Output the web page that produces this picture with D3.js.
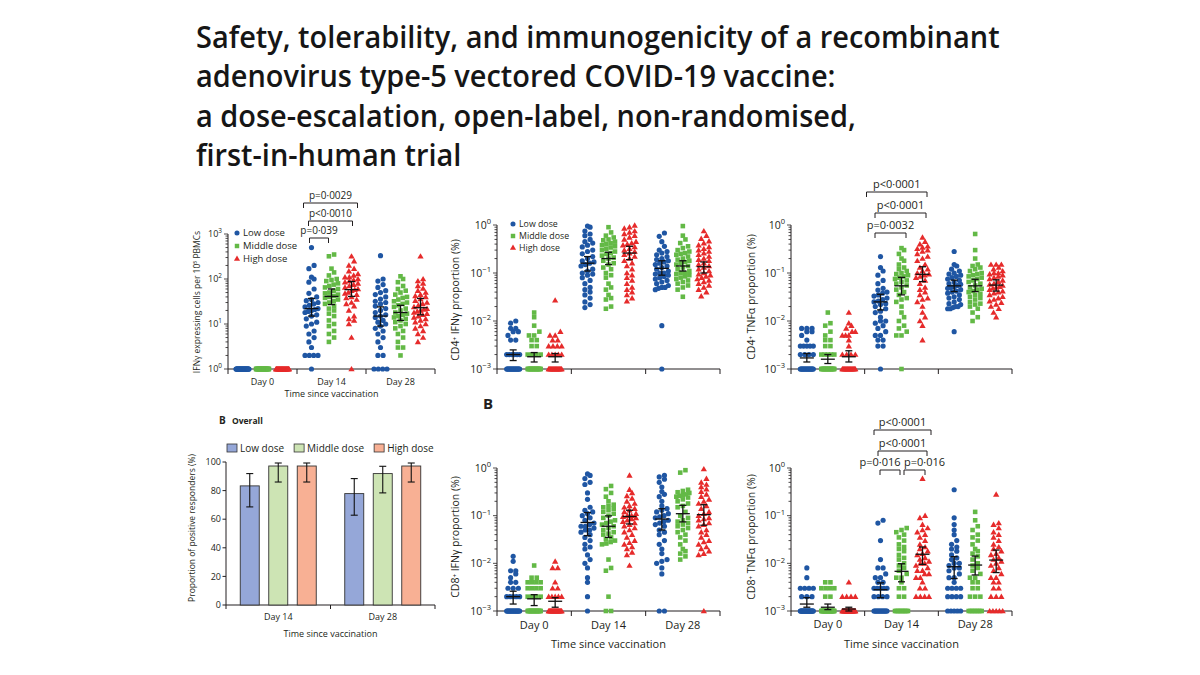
<!DOCTYPE html>
<html><head><meta charset="utf-8">
<script src="https://cdn.jsdelivr.net/npm/d3@7"></script>
<style>body{margin:0;background:#fff}svg{display:block}</style>
</head><body>
<script>
// ---------------- DATA ----------------
const titleLines = ["Safety, tolerability, and immunogenicity of a recombinant","adenovirus type-5 vectored COVID-19 vaccine:","a dose-escalation, open-label, non-randomised,","first-in-human trial"];
const doseLabels = ["Low dose","Middle dose","High dose"];
const dayLabels = ["Day 0","Day 14","Day 28"];
const barDays = ["Day 14","Day 28"];
const xTitle = "Time since vaccination";

// IFN-γ ELISpot (cells per 10^5 PBMCs)
const spotD0Low  = [1,1,1,1,1,1,1,1,1,1,1,1,1,1,1,1,1,1,1,1,1,1,1,1,1,1,1,1,1,1,1,1,1,1,1,1];
const spotD0Mid  = [1,1,1,1,1,1,1,1,1,1,1,1,1,1,1,1,1,1,1,1,1,1,1,1,1,1,1,1,1,1,1,1,1,1,1,1];
const spotD0High = [1,1,1,1,1,1,1,1,1,1,1,1,1,1,1,1,1,1,1,1,1,1,1,1,1,1,1,1,1,1,1,1,1,1,1,1];
const spotD14Low  = [500,200,170,110,100,85,60,48,40,35,33,30,28,26,24,22,21,20,19,18,16,15,13,11,10,9,7,6,5,4,3,2,2,2,2,1];
const spotD14Mid  = [350,320,170,140,120,100,95,90,80,75,70,65,60,55,50,48,45,42,40,38,35,32,30,28,25,22,20,17,15,12,10,9,7,6,5,4];
const spotD14High = [320,250,200,170,150,130,120,110,110,100,95,90,85,80,75,70,65,60,58,55,50,48,45,40,38,35,30,28,25,20,15,13,12,10,5,1];
const spotD28Low  = [330,100,90,75,65,55,50,45,40,36,32,30,28,25,22,20,18,16,15,14,12,11,10,9,8,7,6,5,4,3,2,2,1,1,1,1];
const spotD28Mid  = [115,100,85,70,60,55,50,45,40,38,35,32,30,28,26,24,22,20,18,17,16,15,14,13,12,11,10,9,8,7,6,5,4,3,3,2];
const spotD28High = [320,100,90,80,70,62,55,50,45,42,40,36,33,30,28,26,24,22,21,20,19,18,17,16,15,14,13,12,11,10,9,8,7,6,5,4];
// geometric mean, 95% CI low, 95% CI high  [day][dose]
const spotStats = [null, [[22,15,37],[41,27,60],[58,41,88]], [[15,9,24],[18,12,26],[23,16,37]]];
const spotP = ["p=0·0029","p<0·0010","p=0·039"];
const spotPairs = [[0,2],[0,2],[0,1]];

// CD4+ IFN-γ (%)
const cd4IfnD0Low  = [0.010,0.009,0.007,0.007,0.006,0.006,0.005,0.004,0.004,0.002,0.002,0.002,0.002,0.002,0.002,0.001,0.001,0.001,0.001,0.001,0.001,0.001,0.001,0.001,0.001,0.001,0.001,0.001,0.001,0.001,0.001,0.001,0.001,0.001,0.001,0.001];
const cd4IfnD0Mid  = [0.015,0.012,0.008,0.006,0.005,0.005,0.004,0.004,0.003,0.003,0.002,0.002,0.002,0.002,0.001,0.001,0.001,0.001,0.001,0.001,0.001,0.001,0.001,0.001,0.001,0.001,0.001,0.001,0.001,0.001,0.001,0.001,0.001,0.001,0.001,0.001];
const cd4IfnD0High = [0.027,0.006,0.005,0.005,0.004,0.004,0.003,0.003,0.003,0.003,0.002,0.002,0.002,0.002,0.002,0.001,0.001,0.001,0.001,0.001,0.001,0.001,0.001,0.001,0.001,0.001,0.001,0.001,0.001,0.001,0.001,0.001,0.001,0.001,0.001,0.001];
const cd4IfnD14Low  = [0.95,0.9,0.75,0.65,0.6,0.5,0.45,0.42,0.38,0.35,0.3,0.28,0.25,0.22,0.2,0.18,0.17,0.16,0.15,0.14,0.12,0.11,0.1,0.095,0.09,0.08,0.07,0.06,0.05,0.045,0.04,0.035,0.03,0.025,0.022,0.019];
const cd4IfnD14Mid  = [0.9,0.7,0.6,0.55,0.5,0.48,0.45,0.42,0.4,0.38,0.36,0.34,0.32,0.3,0.28,0.26,0.25,0.23,0.21,0.2,0.18,0.16,0.15,0.13,0.12,0.1,0.09,0.08,0.06,0.05,0.045,0.035,0.03,0.028,0.02,0.018];
const cd4IfnD14High = [0.98,0.9,0.85,0.75,0.7,0.65,0.6,0.55,0.5,0.45,0.42,0.4,0.38,0.35,0.32,0.3,0.28,0.26,0.24,0.22,0.2,0.18,0.16,0.14,0.12,0.1,0.09,0.08,0.07,0.06,0.05,0.045,0.04,0.035,0.03,0.026];
const cd4IfnD28Low  = [0.68,0.58,0.45,0.36,0.3,0.28,0.26,0.24,0.22,0.2,0.19,0.18,0.17,0.16,0.15,0.14,0.13,0.12,0.11,0.1,0.1,0.095,0.09,0.085,0.08,0.075,0.07,0.065,0.06,0.055,0.05,0.05,0.048,0.045,0.008,0.001];
const cd4IfnD28Mid  = [0.95,0.6,0.5,0.42,0.36,0.33,0.3,0.28,0.26,0.25,0.24,0.22,0.2,0.19,0.18,0.17,0.16,0.15,0.14,0.13,0.12,0.11,0.1,0.1,0.095,0.09,0.085,0.08,0.075,0.07,0.065,0.06,0.055,0.05,0.045,0.032];
const cd4IfnD28High = [0.75,0.6,0.52,0.46,0.42,0.38,0.35,0.32,0.3,0.28,0.26,0.24,0.22,0.2,0.19,0.18,0.16,0.15,0.14,0.13,0.12,0.11,0.1,0.095,0.09,0.085,0.08,0.075,0.07,0.065,0.06,0.055,0.05,0.045,0.04,0.033];
const cd4IfnStats = [[[0.002,0.0015,0.0025],[0.0018,0.0014,0.0022],[0.0018,0.0014,0.0021]],[[0.16,0.11,0.22],[0.2,0.15,0.27],[0.26,0.19,0.36]],[[0.125,0.09,0.18],[0.14,0.11,0.18],[0.135,0.1,0.17]]];

// CD4+ TNF-α (%)
const cd4TnfD0Low  = [0.007,0.007,0.007,0.006,0.006,0.005,0.004,0.003,0.003,0.003,0.003,0.003,0.002,0.002,0.002,0.002,0.001,0.001,0.001,0.001,0.001,0.001,0.001,0.001,0.001,0.001,0.001,0.001,0.001,0.001,0.001,0.001,0.001,0.001,0.001,0.001];
const cd4TnfD0Mid  = [0.015,0.009,0.008,0.006,0.005,0.004,0.004,0.003,0.003,0.002,0.002,0.002,0.002,0.002,0.001,0.001,0.001,0.001,0.001,0.001,0.001,0.001,0.001,0.001,0.001,0.001,0.001,0.001,0.001,0.001,0.001,0.001,0.001,0.001,0.001,0.001];
const cd4TnfD0High = [0.015,0.009,0.008,0.007,0.006,0.006,0.005,0.005,0.005,0.004,0.003,0.002,0.002,0.002,0.002,0.001,0.001,0.001,0.001,0.001,0.001,0.001,0.001,0.001,0.001,0.001,0.001,0.001,0.001,0.001,0.001,0.001,0.001,0.001,0.001,0.001];
const cd4TnfD14Low  = [0.22,0.13,0.11,0.09,0.07,0.06,0.048,0.044,0.04,0.038,0.035,0.033,0.03,0.028,0.026,0.025,0.023,0.022,0.02,0.018,0.016,0.015,0.012,0.01,0.01,0.009,0.008,0.007,0.006,0.005,0.005,0.004,0.004,0.003,0.003,0.001];
const cd4TnfD14Mid  = [0.33,0.3,0.25,0.2,0.18,0.15,0.13,0.12,0.11,0.1,0.095,0.09,0.085,0.08,0.075,0.07,0.065,0.06,0.055,0.05,0.045,0.04,0.035,0.03,0.028,0.025,0.02,0.015,0.012,0.01,0.008,0.007,0.006,0.005,0.005,0.001];
const cd4TnfD14High = [0.55,0.45,0.4,0.36,0.34,0.32,0.3,0.28,0.25,0.22,0.2,0.18,0.15,0.13,0.12,0.11,0.1,0.095,0.09,0.085,0.08,0.07,0.06,0.05,0.045,0.04,0.035,0.03,0.028,0.025,0.02,0.015,0.012,0.01,0.008,0.004];
const cd4TnfD28Low  = [0.28,0.15,0.14,0.12,0.11,0.1,0.095,0.09,0.085,0.08,0.075,0.07,0.065,0.06,0.058,0.055,0.052,0.05,0.048,0.045,0.042,0.04,0.038,0.035,0.032,0.03,0.028,0.025,0.023,0.022,0.02,0.02,0.019,0.018,0.018,0.006];
const cd4TnfD28Mid  = [0.65,0.3,0.2,0.15,0.14,0.13,0.12,0.11,0.1,0.095,0.09,0.085,0.08,0.075,0.07,0.065,0.06,0.055,0.05,0.047,0.045,0.042,0.04,0.037,0.035,0.032,0.03,0.028,0.025,0.023,0.022,0.02,0.018,0.015,0.012,0.01];
const cd4TnfD28High = [0.15,0.15,0.15,0.13,0.12,0.11,0.1,0.1,0.095,0.09,0.085,0.08,0.075,0.07,0.065,0.06,0.058,0.055,0.052,0.05,0.048,0.045,0.042,0.04,0.038,0.035,0.032,0.03,0.028,0.026,0.024,0.022,0.02,0.018,0.015,0.012];
const cd4TnfStats = [[[0.0017,0.0014,0.0021],[0.0016,0.0013,0.002],[0.0018,0.0014,0.0024]],[[0.025,0.017,0.036],[0.054,0.035,0.081],[0.094,0.066,0.135]],[[0.054,0.041,0.071],[0.054,0.041,0.074],[0.056,0.042,0.072]]];
const cd4TnfP = ["p<0·0001","p<0·0001","p=0·0032"];
const cd4TnfPairs = [[0,2],[0,2],[0,1]];

// CD8+ IFN-γ (%)
const cd8IfnD0Low  = [0.014,0.011,0.007,0.007,0.006,0.005,0.004,0.004,0.003,0.003,0.003,0.002,0.002,0.002,0.002,0.002,0.001,0.001,0.001,0.001,0.001,0.001,0.001,0.001,0.001,0.001,0.001,0.001,0.001,0.001,0.001,0.001,0.001,0.001,0.001,0.001];
const cd8IfnD0Mid  = [0.009,0.005,0.005,0.004,0.004,0.004,0.004,0.003,0.003,0.003,0.003,0.002,0.002,0.002,0.002,0.001,0.001,0.001,0.001,0.001,0.001,0.001,0.001,0.001,0.001,0.001,0.001,0.001,0.001,0.001,0.001,0.001,0.001,0.001,0.001,0.001];
const cd8IfnD0High = [0.011,0.008,0.008,0.004,0.003,0.003,0.002,0.002,0.002,0.002,0.002,0.001,0.001,0.001,0.001,0.001,0.001,0.001,0.001,0.001,0.001,0.001,0.001,0.001,0.001,0.001,0.001,0.001,0.001,0.001,0.001,0.001,0.001,0.001,0.001,0.001];
const cd8IfnD14Low  = [0.75,0.7,0.6,0.5,0.45,0.3,0.22,0.15,0.13,0.12,0.11,0.1,0.09,0.08,0.07,0.065,0.06,0.06,0.055,0.05,0.05,0.045,0.04,0.035,0.03,0.025,0.022,0.02,0.015,0.012,0.01,0.008,0.005,0.004,0.002,0.001];
const cd8IfnD14Mid  = [0.42,0.36,0.3,0.25,0.2,0.17,0.16,0.15,0.14,0.13,0.12,0.11,0.1,0.09,0.08,0.075,0.07,0.065,0.06,0.055,0.05,0.045,0.042,0.04,0.035,0.032,0.03,0.028,0.026,0.025,0.012,0.008,0.007,0.002,0.001,0.001];
const cd8IfnD14High = [0.7,0.35,0.3,0.26,0.23,0.2,0.18,0.16,0.15,0.14,0.13,0.12,0.11,0.1,0.1,0.095,0.09,0.085,0.08,0.075,0.07,0.065,0.06,0.055,0.05,0.045,0.04,0.035,0.03,0.027,0.025,0.022,0.02,0.017,0.015,0.009];
const cd8IfnD28Low  = [0.7,0.65,0.58,0.5,0.4,0.32,0.28,0.25,0.2,0.16,0.14,0.13,0.12,0.11,0.1,0.095,0.09,0.08,0.075,0.07,0.065,0.06,0.05,0.045,0.04,0.03,0.025,0.02,0.016,0.012,0.011,0.01,0.008,0.006,0.001,0.001];
const cd8IfnD28Mid  = [0.9,0.8,0.35,0.33,0.31,0.3,0.28,0.27,0.26,0.25,0.24,0.22,0.2,0.18,0.16,0.15,0.12,0.1,0.09,0.08,0.075,0.07,0.065,0.06,0.055,0.05,0.045,0.04,0.035,0.03,0.025,0.02,0.018,0.016,0.014,0.012];
const cd8IfnD28High = [0.95,0.6,0.5,0.45,0.4,0.36,0.32,0.28,0.25,0.22,0.2,0.18,0.16,0.14,0.12,0.11,0.1,0.09,0.085,0.08,0.07,0.065,0.06,0.05,0.045,0.04,0.035,0.03,0.028,0.025,0.022,0.02,0.018,0.016,0.015,0.001];
const cd8IfnStats = [[[0.002,0.0014,0.0026],[0.0018,0.0013,0.0022],[0.0016,0.0012,0.0019]],[[0.072,0.038,0.116],[0.06,0.035,0.099],[0.096,0.067,0.13]],[[0.085,0.05,0.14],[0.11,0.074,0.165],[0.105,0.063,0.17]]];

// CD8+ TNF-α (%)
const cd8TnfD0Low  = [0.008,0.005,0.003,0.003,0.003,0.003,0.002,0.002,0.002,0.001,0.001,0.001,0.001,0.001,0.001,0.001,0.001,0.001,0.001,0.001,0.001,0.001,0.001,0.001,0.001,0.001,0.001,0.001,0.001,0.001,0.001,0.001,0.001,0.001,0.001,0.001];
const cd8TnfD0Mid  = [0.004,0.004,0.003,0.003,0.003,0.003,0.002,0.002,0.001,0.001,0.001,0.001,0.001,0.001,0.001,0.001,0.001,0.001,0.001,0.001,0.001,0.001,0.001,0.001,0.001,0.001,0.001,0.001,0.001,0.001,0.001,0.001,0.001,0.001,0.001,0.001];
const cd8TnfD0High = [0.004,0.002,0.002,0.002,0.002,0.001,0.001,0.001,0.001,0.001,0.001,0.001,0.001,0.001,0.001,0.001,0.001,0.001,0.001,0.001,0.001,0.001,0.001,0.001,0.001,0.001,0.001,0.001,0.001,0.001,0.001,0.001,0.001,0.001,0.001,0.001];
const cd8TnfD14Low  = [0.08,0.07,0.03,0.012,0.008,0.008,0.006,0.005,0.005,0.004,0.004,0.003,0.003,0.003,0.003,0.003,0.002,0.002,0.002,0.002,0.001,0.001,0.001,0.001,0.001,0.001,0.001,0.001,0.001,0.001,0.001,0.001,0.001,0.001,0.001,0.001];
const cd8TnfD14Mid  = [0.055,0.05,0.045,0.04,0.035,0.03,0.025,0.022,0.02,0.018,0.015,0.013,0.012,0.01,0.009,0.008,0.007,0.006,0.005,0.005,0.004,0.003,0.003,0.002,0.002,0.001,0.001,0.001,0.001,0.001,0.001,0.001,0.001,0.001,0.001,0.001];
const cd8TnfD14High = [0.6,0.1,0.09,0.065,0.055,0.05,0.045,0.04,0.035,0.03,0.025,0.022,0.02,0.018,0.016,0.015,0.013,0.012,0.011,0.01,0.01,0.009,0.008,0.007,0.007,0.006,0.006,0.005,0.005,0.004,0.003,0.003,0.002,0.002,0.002,0.002];
const cd8TnfD28Low  = [0.35,0.09,0.065,0.05,0.04,0.03,0.025,0.022,0.02,0.018,0.015,0.013,0.012,0.01,0.01,0.009,0.008,0.008,0.007,0.006,0.005,0.005,0.004,0.003,0.003,0.003,0.003,0.002,0.002,0.002,0.002,0.001,0.001,0.001,0.001,0.001];
const cd8TnfD28Mid  = [0.12,0.08,0.06,0.05,0.04,0.035,0.03,0.025,0.02,0.018,0.016,0.014,0.012,0.01,0.009,0.008,0.007,0.006,0.005,0.005,0.004,0.004,0.003,0.003,0.002,0.002,0.002,0.001,0.001,0.001,0.001,0.001,0.001,0.001,0.001,0.001];
const cd8TnfD28High = [0.28,0.07,0.065,0.055,0.045,0.04,0.035,0.03,0.025,0.022,0.02,0.018,0.016,0.015,0.013,0.012,0.011,0.01,0.009,0.008,0.007,0.006,0.005,0.005,0.004,0.004,0.003,0.003,0.002,0.002,0.002,0.001,0.001,0.001,0.001,0.001];
const cd8TnfStats = [[[0.0014,0.0012,0.0019],[0.0012,0.00107,0.0014],[0.0011,0.001,0.0012]],[[0.0028,0.0019,0.0039],[0.0068,0.0041,0.0098],[0.0155,0.0095,0.022]],[[0.0085,0.0048,0.0138],[0.0092,0.0057,0.0142],[0.0117,0.0064,0.019]]];
const cd8TnfP = ["p<0·0001","p<0·0001","p=0·016","p=0·016"];
const cd8TnfPairs = [[0,2],[0,2],[0,1],[1,2]];

// Overall proportion of positive responders (%)
const respLow  = [83.3, 77.9];
const respMid  = [97.2, 91.9];
const respHigh = [97.2, 97.2];
const respLowCI  = [[68.6, 91.9],[62.8, 88.4]];
const respMidCI  = [[86, 99.3],[78.4, 97]];
const respHighCI = [[86, 99.3],[86, 99.3]];

// ---------------- STYLE / LAYOUT ----------------
const FONT = "'Open Sans','Noto Sans','DejaVu Sans',sans-serif";
const INK = "#231f20";
const doseColors = ["#1f56a3","#63b946","#e62b2b"];
const barColors = ["#95a7d8","#cde4b4","#f8b094"];
const symbols = [d3.symbolCircle, d3.symbolSquare, d3.symbolTriangle];
const symSizes = [21, 21, 17];

const svg = d3.select("body").append("svg").attr("width",1200).attr("height",675)
  .attr("font-family", FONT).style("background","#fff");

// Title
(function(){
  const g = svg.append("g");
  const t = g.append("text").attr("font-size",31).attr("font-weight",600).attr("fill","#161616");
  titleLines.forEach((l,i)=> t.append("tspan").attr("x",0).attr("y",i*39.3).text(l));
  const w = t.select("tspan").node().getComputedTextLength();
  g.attr("transform",`translate(196,48) scale(${804/w},1)`);
})();

function supLabel(sel, base, exp, fs){
  sel.append("tspan").text(base);
  sel.append("tspan").attr("dy",-fs*0.42).attr("font-size",fs*0.72).text(exp);
}

function swarm(vals, y, d, maxHalf, binH){
  const lo = y.domain()[0];
  const pts = vals.map(v => ({v, y: y(Math.max(v, lo))}));
  pts.sort((a,b)=> b.y - a.y);
  const rows = []; let cur = null;
  for (const p of pts){
    if (!cur || Math.abs(p.y - cur.y0) > binH){ cur = {y0:p.y, pts:[]}; rows.push(cur); }
    cur.pts.push(p);
  }
  rows.forEach(r => {
    const n = r.pts.length;
    const s = n > 1 ? Math.min(d, 2*maxHalf/(n-1)) : 0;
    r.pts.forEach((p,i)=> p.dx = (i-(n-1)/2)*s);
  });
  return pts;
}

function logPanel(p){
  const g = svg.append("g");
  const y = d3.scaleLog().domain(p.domain).range([p.yBot, p.yTop]);
  const xb = d3.scaleBand().domain(dayLabels).range([p.x0, p.x1]);
  const xd = d3.scalePoint().domain(doseLabels).range([-p.off, p.off]);
  const cx = (di,k)=> xb(dayLabels[di]) + xb.bandwidth()/2 + xd(doseLabels[k]);

  // y axis
  g.append("line").attr("x1",p.x0).attr("x2",p.x0).attr("y1",p.yTop).attr("y2",p.yBot).attr("stroke",INK).attr("stroke-width",1);
  y.ticks().forEach(v=>{
    const e = Math.log10(v), major = Math.abs(e-Math.round(e))<1e-6;
    g.append("line").attr("x1",p.x0-(major?4:2.5)).attr("x2",p.x0).attr("y1",y(v)).attr("y2",y(v)).attr("stroke",INK).attr("stroke-width",0.8);
    if (major){
      const r = Math.round(e);
      const t = g.append("text").attr("x",p.x0-6).attr("y",y(v)+p.fs.tick*0.36).attr("text-anchor","end")
        .attr("font-size",p.fs.tick).attr("fill",INK);
      supLabel(t,"10", r<0 ? "−"+(-r) : String(r), p.fs.tick);
    }
  });
  // x axis
  g.append("line").attr("x1",p.x0).attr("x2",p.x1).attr("y1",p.yBot).attr("y2",p.yBot).attr("stroke",INK).attr("stroke-width",1);
  const bounds = dayLabels.map(d=>xb(d)).concat([p.x1]);
  bounds.forEach(b=> g.append("line").attr("x1",b).attr("x2",b).attr("y1",p.yBot).attr("y2",p.yBot+5).attr("stroke",INK).attr("stroke-width",1));
  if (p.showDays){
    dayLabels.forEach(d=> g.append("text").attr("x",xb(d)+xb.bandwidth()/2).attr("y",p.dayY).attr("text-anchor","middle")
      .attr("font-size",p.fs.day).attr("fill",INK).text(d));
    g.append("text").attr("x",(p.x0+p.x1)/2).attr("y",p.titleY).attr("text-anchor","middle")
      .attr("font-size",p.fs.day).attr("fill",INK).text(xTitle);
  }
  // y label
  g.append("text").attr("transform",`translate(${p.yLabelX},${p.yLabelY}) rotate(-90)`).attr("text-anchor","middle")
    .attr("font-size",p.fs.ylab).attr("fill",INK).text(p.yLabel);

  // points
  p.data.forEach((dayArr,di)=>{
    dayArr.forEach((vals,k)=>{
      const pts = swarm(vals, y, 5.2, 6.5, 4.4);
      const sym = d3.symbol().type(symbols[k]).size(symSizes[k]);
      g.append("g").selectAll("path").data(pts).join("path")
        .attr("d", sym).attr("fill", doseColors[k])
        .attr("transform", d=>`translate(${cx(di,k)+d.dx},${d.y + (k===2?0.5:0)})`);
    });
  });
  // mean + CI
  p.stats.forEach((dayArr,di)=>{
    if (!dayArr) return;
    dayArr.forEach((s,k)=>{
      const x = cx(di,k), [m,lo,hi] = s;
      const mg = g.append("g").attr("stroke","#111").attr("stroke-width",1.3).attr("fill","none");
      mg.append("line").attr("x1",x-7).attr("x2",x+7).attr("y1",y(m)).attr("y2",y(m));
      mg.append("line").attr("x1",x).attr("x2",x).attr("y1",y(lo)).attr("y2",y(hi));
      mg.append("line").attr("x1",x-3.5).attr("x2",x+3.5).attr("y1",y(lo)).attr("y2",y(lo));
      mg.append("line").attr("x1",x-3.5).attr("x2",x+3.5).attr("y1",y(hi)).attr("y2",y(hi));
    });
  });
  // legend
  if (p.legend){
    doseLabels.forEach((lab,k)=>{
      const ly = p.legend.y + k*p.legend.dy;
      g.append("path").attr("d", d3.symbol().type(symbols[k]).size(symSizes[k]*0.95)())
        .attr("fill",doseColors[k]).attr("transform",`translate(${p.legend.x},${ly})`);
      g.append("text").attr("x",p.legend.x+6).attr("y",ly+3.3).attr("font-size",p.fs.leg).attr("fill",INK).text(lab);
    });
  }
  // brackets
  if (p.pvals){
    p.pvals.forEach((lab,i)=>{
      const [a,b] = p.pairs[i], geo = p.brk[i];
      const x1 = cx(1,a)+geo.p1, x2 = cx(1,b)+geo.p2, by = geo.y;
      g.append("path").attr("d",`M${x1},${by+5}V${by}H${x2}V${by+5}`).attr("fill","none").attr("stroke",INK).attr("stroke-width",1);
      g.append("text").attr("x",(x1+x2)/2+(geo.tdx||0)).attr("y",by-4).attr("text-anchor","middle")
        .attr("font-size",p.fs.p).attr("fill",INK).text(lab);
    });
  }
}

// Panel: IFN-γ ELISpot
logPanel({
  data:[[spotD0Low,spotD0Mid,spotD0High],[spotD14Low,spotD14Mid,spotD14High],[spotD28Low,spotD28Mid,spotD28High]],
  stats: spotStats, domain:[1,1000], x0:228, x1:435, yTop:234, yBot:369, off:20,
  fs:{tick:9, day:9, ylab:8.5, leg:9.5, p:10}, showDays:true, dayY:385, titleY:397,
  yLabel:"IFNγ expressing cells per 10⁵ PBMCs", yLabelX:200, yLabelY:302,
  legend:{x:237,y:233,dy:13},
  pvals: spotP, pairs: spotPairs,
  brk:[{y:203,p1:-8,p2:6},{y:221,p1:-3,p2:1},{y:238,p1:-2,p2:-3}]
});
// Panel: CD4 IFN-γ
logPanel({
  data:[[cd4IfnD0Low,cd4IfnD0Mid,cd4IfnD0High],[cd4IfnD14Low,cd4IfnD14Mid,cd4IfnD14High],[cd4IfnD28Low,cd4IfnD28Mid,cd4IfnD28High]],
  stats: cd4IfnStats, domain:[0.001,1], x0:497, x1:720, yTop:225, yBot:369, off:21,
  fs:{tick:10.5, day:10.5, ylab:10.5, leg:8.8, p:11}, showDays:false,
  yLabel:"CD4⁺ IFNγ proportion (%)", yLabelX:459, yLabelY:300,
  legend:{x:513,y:224,dy:12}
});
// Panel: CD4 TNF-α
logPanel({
  data:[[cd4TnfD0Low,cd4TnfD0Mid,cd4TnfD0High],[cd4TnfD14Low,cd4TnfD14Mid,cd4TnfD14High],[cd4TnfD28Low,cd4TnfD28Mid,cd4TnfD28High]],
  stats: cd4TnfStats, domain:[0.001,1], x0:791, x1:1012, yTop:225, yBot:369, off:21,
  fs:{tick:10.5, day:10.5, ylab:10.5, leg:9.5, p:11}, showDays:false,
  yLabel:"CD4⁺ TNFα proportion (%)", yLabelX:755, yLabelY:297,
  pvals: cd4TnfP, pairs: cd4TnfPairs,
  brk:[{y:192,p1:-14,p2:4.5},{y:213,p1:-5.5,p2:3.5},{y:233,p1:-5.5,p2:4.5}]
});
// Panel: CD8 IFN-γ
logPanel({
  data:[[cd8IfnD0Low,cd8IfnD0Mid,cd8IfnD0High],[cd8IfnD14Low,cd8IfnD14Mid,cd8IfnD14High],[cd8IfnD28Low,cd8IfnD28Mid,cd8IfnD28High]],
  stats: cd8IfnStats, domain:[0.001,1], x0:497, x1:720, yTop:468, yBot:611, off:21,
  fs:{tick:10.5, day:11, ylab:10.5, leg:9.5, p:11}, showDays:true, dayY:629, titleY:648,
  yLabel:"CD8⁺ IFNγ proportion (%)", yLabelX:459, yLabelY:537
});
// Panel: CD8 TNF-α
logPanel({
  data:[[cd8TnfD0Low,cd8TnfD0Mid,cd8TnfD0High],[cd8TnfD14Low,cd8TnfD14Mid,cd8TnfD14High],[cd8TnfD28Low,cd8TnfD28Mid,cd8TnfD28High]],
  stats: cd8TnfStats, domain:[0.001,1], x0:791, x1:1012, yTop:468, yBot:611, off:21,
  fs:{tick:10.5, day:11, ylab:10.5, leg:9.5, p:11}, showDays:true, dayY:628, titleY:648,
  yLabel:"CD8⁺ TNFα proportion (%)", yLabelX:755, yLabelY:537,
  pvals: cd8TnfP, pairs: cd8TnfPairs,
  brk:[{y:430,p1:-6.5,p2:8.5},{y:451,p1:-2.5,p2:4.5},{y:470,p1:-0.5,p2:-1.5,tdx:-10},{y:470,p1:2.5,p2:2.5,tdx:10}]
});

// "B" marker above CD8 IFN panel
svg.append("text").attr("x",483).attr("y",409).attr("font-size",15).attr("font-weight",700).attr("fill",INK).text("B");

// Bar panel: overall responders
(function(){
  const g = svg.append("g");
  const x0 = 226, x1 = 435, yTop = 462, yBot = 605;
  const y = d3.scaleLinear().domain([0,100]).range([yBot,yTop]);
  const xb = d3.scaleBand().domain(barDays).range([x0,x1]);
  const xd = d3.scaleBand().domain(doseLabels).range([-38,38]).paddingInner(1/3).paddingOuter(0);
  const series = [respLow, respMid, respHigh], cis = [respLowCI, respMidCI, respHighCI];

  g.append("text").attr("x",219).attr("y",424).attr("font-size",10).attr("font-weight",700).attr("fill",INK).text("B");
  g.append("text").attr("x",232).attr("y",424).attr("font-size",8.5).attr("font-weight",700).attr("fill",INK).text("Overall");

  // legend
  let lx = 227;
  doseLabels.forEach((lab,k)=>{
    g.append("rect").attr("x",lx).attr("y",444).attr("width",10).attr("height",8).attr("fill",barColors[k]).attr("stroke","#333").attr("stroke-width",0.8);
    const t = g.append("text").attr("x",lx+13).attr("y",452).attr("font-size",10).attr("fill",INK).text(lab);
    lx += 13 + t.node().getComputedTextLength() + 10;
  });

  // axes
  g.append("line").attr("x1",x0).attr("x2",x0).attr("y1",yTop).attr("y2",yBot).attr("stroke",INK);
  y.ticks(5).forEach(v=>{
    g.append("line").attr("x1",x0-3.5).attr("x2",x0).attr("y1",y(v)).attr("y2",y(v)).attr("stroke",INK);
    g.append("text").attr("x",x0-5).attr("y",y(v)+3.2).attr("text-anchor","end").attr("font-size",9).attr("fill",INK).text(v);
  });
  g.append("line").attr("x1",x0).attr("x2",x1).attr("y1",yBot).attr("y2",yBot).attr("stroke",INK);
  barDays.map(d=>xb(d)).concat([x1]).forEach(b=> g.append("line").attr("x1",b).attr("x2",b).attr("y1",yBot).attr("y2",yBot+4).attr("stroke",INK));
  barDays.forEach(d=> g.append("text").attr("x",xb(d)+xb.bandwidth()/2).attr("y",620).attr("text-anchor","middle").attr("font-size",9).attr("fill",INK).text(d));
  g.append("text").attr("x",(x0+x1)/2).attr("y",637).attr("text-anchor","middle").attr("font-size",9).attr("fill",INK).text(xTitle);
  g.append("text").attr("transform",`translate(195,528) rotate(-90)`).attr("text-anchor","middle").attr("font-size",8.5).attr("fill",INK).text("Proportion of positive responders (%)");

  series.forEach((vals,k)=>{
    vals.forEach((v,di)=>{
      const bx = xb(barDays[di]) + xb.bandwidth()/2 + xd(doseLabels[k]);
      g.append("rect").attr("x",bx).attr("y",y(v)).attr("width",xd.bandwidth()).attr("height",y(0)-y(v))
        .attr("fill",barColors[k]).attr("stroke","#333").attr("stroke-width",0.9);
      const cxm = bx + xd.bandwidth()/2, [lo,hi] = cis[k][di];
      const eg = g.append("g").attr("stroke","#111").attr("stroke-width",1.1);
      eg.append("line").attr("x1",cxm).attr("x2",cxm).attr("y1",y(lo)).attr("y2",y(hi));
      eg.append("line").attr("x1",cxm-3.5).attr("x2",cxm+3.5).attr("y1",y(lo)).attr("y2",y(lo));
      eg.append("line").attr("x1",cxm-3.5).attr("x2",cxm+3.5).attr("y1",y(hi)).attr("y2",y(hi));
    });
  });
})();
</script>
</body></html>
